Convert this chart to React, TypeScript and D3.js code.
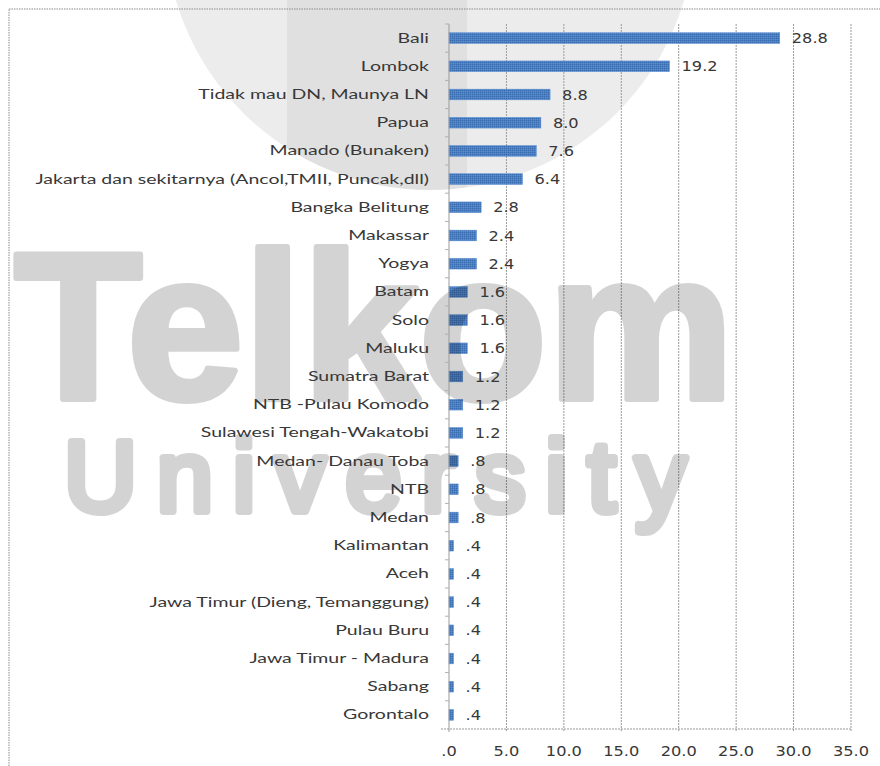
import React from "react";
import * as d3 from "d3";

const categories = [
  "Bali",
  "Lombok",
  "Tidak mau DN, Maunya LN",
  "Papua",
  "Manado (Bunaken)",
  "Jakarta dan sekitarnya (Ancol,TMII, Puncak,dll)",
  "Bangka Belitung",
  "Makassar",
  "Yogya",
  "Batam",
  "Solo",
  "Maluku",
  "Sumatra Barat",
  "NTB -Pulau Komodo",
  "Sulawesi Tengah-Wakatobi",
  "Medan- Danau Toba",
  "NTB",
  "Medan",
  "Kalimantan",
  "Aceh",
  "Jawa Timur (Dieng, Temanggung)",
  "Pulau Buru",
  "Jawa Timur - Madura",
  "Sabang",
  "Gorontalo",
];

const values = [
  28.8, 19.2, 8.8, 8.0, 7.6, 6.4, 2.8, 2.4, 2.4, 1.6, 1.6, 1.6, 1.2, 1.2, 1.2,
  0.8, 0.8, 0.8, 0.4, 0.4, 0.4, 0.4, 0.4, 0.4, 0.4,
];

const xTicks = [0, 5, 10, 15, 20, 25, 30, 35];

const W = 880;
const H = 766;
const plotLeft = 449;
const plotRight = 851;
const plotTop = 24;
const plotBottom = 729;

const fmt = (v: number) => {
  const s = d3.format(".1f")(v);
  return s.startsWith("0") ? s.slice(1) : s;
};

export default function App() {
  const x = d3.scaleLinear().domain([0, 35]).range([plotLeft, plotRight]);
  const y = d3
    .scaleBand<string>()
    .domain(categories)
    .range([plotTop, plotBottom])
    .paddingInner(0.62)
    .paddingOuter(0.31);
  const band = d3.scaleBand<string>().domain(categories).range([plotTop, plotBottom]);

  const labelColor = "#383838";
  const gridColor = "#9a9a9a";

  // watermark circle
  const cx = 430, cy = -75, r = 265;

  return (
    <svg
      width={W}
      height={H}
      style={{ position: "absolute", left: 0, top: 0, background: "#fff" }}
    >
      <defs>
        <pattern id="barPat" width="2" height="2" patternUnits="userSpaceOnUse">
          <rect width="2" height="2" fill="#4c7fc2" />
          <rect width="1" height="1" fill="#3a6cb0" />
          <rect x="1" y="1" width="1" height="1" fill="#5b8dd0" />
        </pattern>
        <clipPath id="circClip">
          <circle cx={cx} cy={cy} r={r} />
        </clipPath>
      </defs>

      {/* watermark circle */}
      <circle cx={cx} cy={cy} r={r} fill="#000" opacity={0.075} />
      <rect x={287} y={0} width={180} height={200} fill="#000" opacity={0.05} clipPath="url(#circClip)" />

      {/* frame */}
      <rect
        x={9}
        y={9}
        width={W + 20}
        height={H + 20}
        fill="none"
        stroke="#8a8a8a"
        strokeWidth={1}
        strokeDasharray="1.5,1"
      />

      {/* gridlines */}
      {xTicks.slice(1).map((t) => (
        <line
          key={"g" + t}
          x1={x(t)}
          x2={x(t)}
          y1={plotTop}
          y2={plotBottom + 3}
          stroke={gridColor}
          strokeWidth={1}
          strokeDasharray="2,1"
        />
      ))}

      {/* bars */}
      {categories.map((c, i) => (
        <rect
          key={"b" + c}
          x={x(0)}
          y={y(c)!}
          width={x(values[i]) - x(0)}
          height={y.bandwidth()}
          fill="url(#barPat)"
          stroke="#5a8fd4"
          strokeWidth={0.5}
        />
      ))}

      {/* watermark text */}
      <g pointerEvents="none" opacity={0.17}>
        <text
          x={14}
          y={399}
          fontFamily="'Liberation Sans', Arial, sans-serif"
          fontWeight={700}
          fontSize={210}
          textLength={720}
          lengthAdjust="spacingAndGlyphs"
          fill="#000"
          stroke="#000"
          strokeWidth={6}
          strokeLinejoin="round"
        >
          Telkom
        </text>
        <text
          x={64}
          y={511}
          fontFamily="'Liberation Sans', Arial, sans-serif"
          fontWeight={400}
          fontSize={101}
          textLength={622}
          lengthAdjust="spacing"
          fill="#000"
          stroke="#000"
          strokeWidth={8}
          strokeLinejoin="round"
          strokeLinecap="round"
        >
          University
        </text>
      </g>

      {/* axes */}
      <line x1={plotLeft} x2={plotLeft} y1={plotTop} y2={plotBottom + 3} stroke={gridColor} strokeWidth={1} />
      <line x1={plotLeft - 8} x2={plotRight} y1={plotBottom} y2={plotBottom} stroke={gridColor} strokeWidth={1} strokeDasharray="2,1" />
      {categories.map((c) => (
        <line
          key={"t" + c}
          x1={plotLeft - 4}
          x2={plotLeft}
          y1={band(c)!}
          y2={band(c)!}
          stroke="#b0b0b0"
          strokeWidth={1}
        />
      ))}

      {/* category labels */}
      {categories.map((c) => (
        <text
          key={"l" + c}
          transform={`translate(429,${band(c)! + band.bandwidth() / 2 + 4.5}) scale(1.5,1)`}
          textAnchor="end"
          fontFamily="Lato, 'Noto Sans', sans-serif"
          fontSize={13}
          fill={labelColor}
        >
          {c}
        </text>
      ))}

      {/* value labels */}
      {categories.map((c, i) => (
        <text
          key={"v" + c}
          transform={`translate(${x(values[i]) + 12},${band(c)! + band.bandwidth() / 2 + 5}) scale(1.2,1)`}
          textAnchor="start"
          fontFamily="'DejaVu Sans', Verdana, sans-serif"
          fontSize={13.5}
          fill={labelColor}
        >
          {fmt(values[i])}
        </text>
      ))}

      {/* x tick labels */}
      {xTicks.map((t) => (
        <text
          key={"x" + t}
          transform={`translate(${x(t)},756) scale(1.2,1)`}
          textAnchor="middle"
          fontFamily="'DejaVu Sans', Verdana, sans-serif"
          fontSize={13.5}
          fill={labelColor}
        >
          {fmt(t)}
        </text>
      ))}
    </svg>
  );
}
